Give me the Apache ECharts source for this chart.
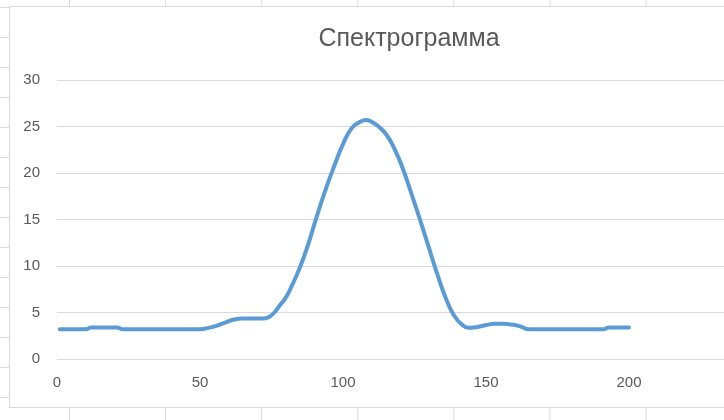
<!DOCTYPE html>
<html><head><meta charset="utf-8">
<script src="https://cdn.jsdelivr.net/npm/echarts@6/dist/echarts.min.js"></script>
<style>
html,body{margin:0;padding:0;width:724px;height:420px;overflow:hidden;background:#fff;}
body{background-image:linear-gradient(to right,#dadada 1px,transparent 1px),linear-gradient(to bottom,#dadada 1px,transparent 1px);background-size:96.1px 30px;background-position:69px 7px;}
#c{position:absolute;left:9px;top:6px;width:798px;height:400px;background:#fff;border:1px solid #d9d9d9;}
</style></head>
<body><div id="c"></div>
<script>
const titleText = 'Спектрограмма';
const xs = [1,10,12,21,23,50,53,56,59,62,65,72,74,76,78,80,82,85,88,91,94,97,100,103,106,108,110,112,115,118,121,124,127,130,133,136,139,142,144,147,150,153,156,159,162,165,191,193,200];
const ys = [3.2,3.2,3.4,3.4,3.2,3.2,3.35,3.6,3.95,4.25,4.35,4.35,4.5,5.0,5.8,6.6,7.8,9.9,12.5,15.5,18.3,20.8,23.1,24.8,25.5,25.7,25.5,25.1,24.2,22.6,20.4,17.7,14.9,12.0,9.1,6.5,4.6,3.6,3.35,3.45,3.65,3.8,3.8,3.7,3.5,3.2,3.2,3.4,3.4];
const xTicks = {min:0,max:250,interval:50};
const yTicks = {min:0,max:30,interval:5};

const chart = echarts.init(document.getElementById('c'), null, {renderer:'canvas'});
chart.setOption({
  animation:false,
  backgroundColor:'#fff',
  title:{text:titleText,left:'center',top:15,textStyle:{fontFamily:'Liberation Sans',fontSize:25,fontWeight:'normal',color:'#595959'}},
  grid:{left:47,top:73,width:715,height:279},
  xAxis:{type:'value',min:xTicks.min,max:xTicks.max,interval:xTicks.interval,
    axisLine:{show:false},axisTick:{show:false},splitLine:{show:false},
    axisLabel:{color:'#595959',fontFamily:'Liberation Sans',fontSize:15,margin:16}},
  yAxis:{type:'value',min:yTicks.min,max:yTicks.max,interval:yTicks.interval,
    axisLine:{show:false},axisTick:{show:false},
    splitLine:{lineStyle:{color:'#d9d9d9',width:1}},
    axisLabel:{color:'#595959',fontFamily:'Liberation Sans',fontSize:15,margin:17}},
  series:[{type:'line',data:xs.map((x,i)=>[x,ys[i]]),smooth:0.5,showSymbol:false,
    lineStyle:{color:'#5b9bd5',width:4,cap:'round',join:'round'}}]
});
</script></body></html>
